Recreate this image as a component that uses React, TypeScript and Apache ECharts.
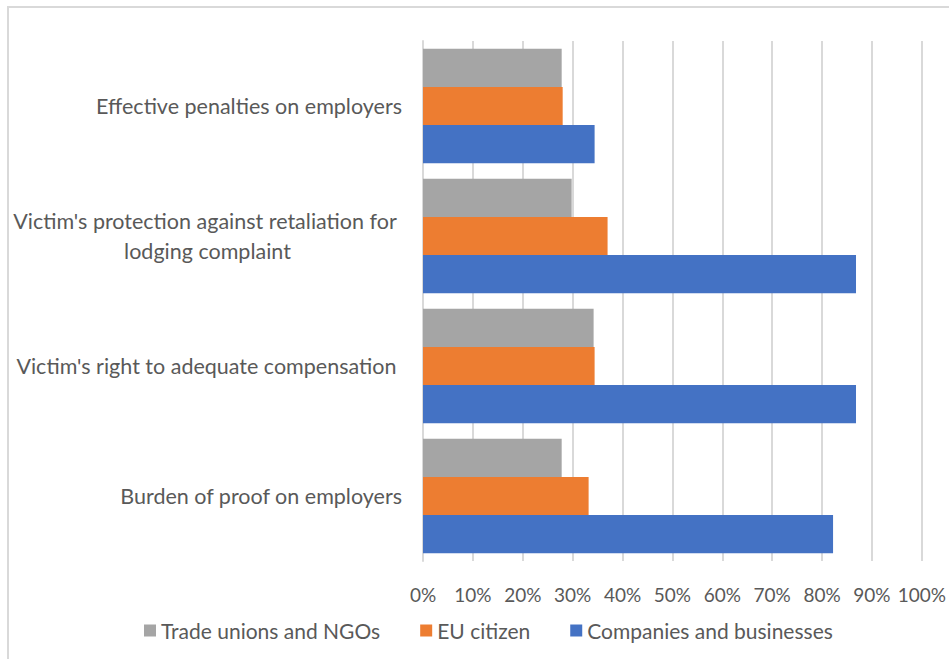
import React, { useEffect, useRef } from "react";
import * as echarts from "echarts";

const categories = [
  "Burden of proof on employers",
  "Victim's right to adequate compensation ",
  "Victim's protection against retaliation for \nlodging complaint",
  "Effective penalties on employers",
];
const seriesNames = ["Trade unions and NGOs", "EU citizen", "Companies and businesses"];
const tradeUnions = [0.278, 0.342, 0.298, 0.278];
const euCitizen = [0.332, 0.344, 0.37, 0.28];
const companies = [0.822, 0.868, 0.868, 0.344];
const colors = ["#A5A5A5", "#ED7D31", "#4472C4"];

const FONT = "Lato";
const TXT = "#595959";

export default function App() {
  const ref = useRef<HTMLDivElement>(null);
  useEffect(() => {
    const chart = echarts.init(ref.current!, null, { renderer: "svg" });
    const values = [tradeUnions, euCitizen, companies];
    chart.setOption({
      animation: false,
      backgroundColor: "#ffffff",
      textStyle: { fontFamily: FONT },
      graphic: [
        {
          type: "rect",
          shape: { x: 8, y: 7, width: 1200, height: 1200 },
          style: { fill: "none", stroke: "#d9d9d9", lineWidth: 2 },
          silent: true,
        },
      ],
      grid: { left: 423, right: 26, top: 41, bottom: 98 },
      legend: {
        data: seriesNames,
        bottom: 13,
        left: 139,
        itemWidth: 12,
        itemHeight: 12,
        itemGap: 40,
        icon: "rect",
        textStyle: { color: TXT, fontSize: 21, fontFamily: FONT },
      },
      xAxis: {
        type: "value",
        min: 0,
        max: 1,
        interval: 0.1,
        axisLine: { show: false },
        axisTick: { show: false },
        splitLine: { lineStyle: { color: "#d9d9d9", width: 2 } },
        axisLabel: {
          color: TXT,
          fontSize: 19,
          fontFamily: FONT,
          margin: 24,
          formatter: (v: number) => Math.round(v * 100) + "%",
        },
      },
      yAxis: {
        type: "category",
        data: categories,
        axisLine: { show: true, lineStyle: { color: "#d9d9d9", width: 2 } },
        axisTick: { show: false },
        axisLabel: {
          color: TXT,
          fontSize: 21.5,
          fontFamily: FONT,
          margin: 21,
          lineHeight: 30,
          formatter: (v: string) => {
            if (v.indexOf("\n") >= 0) {
              return v
                .split("\n")
                .map((l) => "{c|" + l + "}")
                .join("\n");
            }
            return v;
          },
          rich: {
            c: { align: "center", color: TXT, fontSize: 21.5, fontFamily: FONT, lineHeight: 30 },
          },
        },
      },
      series: seriesNames.map((name, i) => ({
        name,
        type: "bar",
        data: values[i],
        barGap: "0%",
        barCategoryGap: "12%",
        itemStyle: { color: colors[i] },
      })),
    });
    return () => chart.dispose();
  }, []);
  return (
    <div
      ref={ref}
      style={{ position: "fixed", left: 0, top: 0, width: 949, height: 659 }}
    />
  );
}
